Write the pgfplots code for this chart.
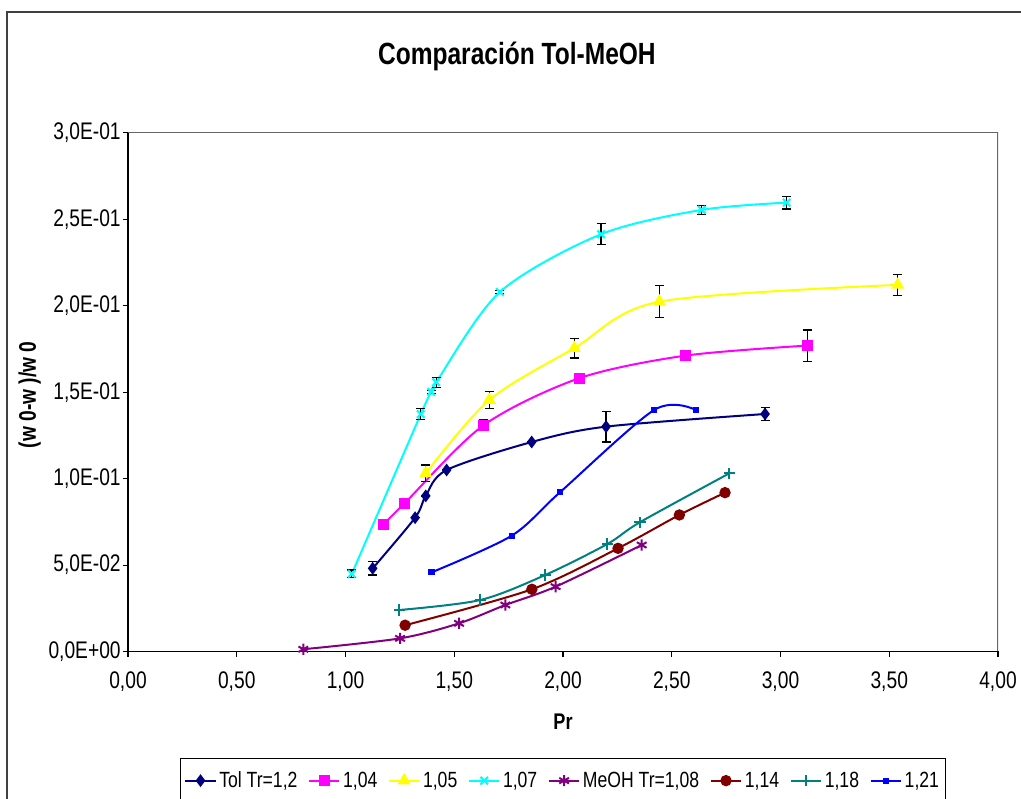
\documentclass[border=0pt]{standalone}
\usepackage{pgfplots}
\pgfplotsset{compat=1.18}
\usepackage{fontspec}
\setmainfont{Liberation Sans}[FakeStretch=0.8]
\definecolor{cNavy}{RGB}{0,0,128}
\definecolor{cMag}{RGB}{255,0,255}
\definecolor{cYel}{RGB}{255,255,0}
\definecolor{cCyan}{RGB}{0,255,255}
\definecolor{cPurp}{RGB}{128,0,128}
\definecolor{cDRed}{RGB}{128,0,0}
\definecolor{cTeal}{RGB}{0,128,128}
\definecolor{cBlue}{RGB}{0,0,255}
\begin{document}
\begin{tikzpicture}
\useasboundingbox (0pt,0pt) rectangle (765.75pt,599.25pt);
\draw[line width=1.5pt,black!75] (5.25pt,-15pt) -- (5.25pt,590.25pt) -- (780pt,590.25pt);
\begin{axis}[
  at={(96pt,110.625pt)}, anchor=south west,
  scale only axis, width=652.5pt, height=388.9pt,
  xmin=0, xmax=4, ymin=0, ymax=0.3,
  axis lines*=left,
  axis line style={line width=1.1pt, -},
  tick align=outside, major tick length=4pt,
  tick style={line width=0.8pt, black},
  xtick={0,0.5,1,1.5,2,2.5,3,3.5,4},
  xticklabels={{0,00},{0,50},{1,00},{1,50},{2,00},{2,50},{3,00},{3,50},{4,00}},
  ytick={0,0.05,0.1,0.15,0.2,0.25,0.3},
  yticklabels={{0,0E+00},{5,0E-02},{1,0E-01},{1,5E-01},{2,0E-01},{2,5E-01},{3,0E-01}},
  ticklabel style={font=\fontsize{18}{21}\selectfont},
  xticklabel style={yshift=-8pt},
  yticklabel style={xshift=2pt},
  title={\fontsize{23}{27}\selectfont\bfseries Comparación Tol-MeOH},
  title style={at={(axis description cs:0.447,1.132)}, anchor=center},
  xlabel={\fontsize{17}{20}\selectfont\bfseries Pr},
  xlabel style={at={(axis description cs:0.5,-0.136)}, anchor=center},
  ylabel={\fontsize{18}{21}\selectfont\bfseries (w 0-w )/w 0},
  ylabel style={at={(axis description cs:-0.113,0.495)}, anchor=center},
  legend columns=8,
  legend style={at={(0.5,-0.205)}, anchor=north, draw=black, line width=0.8pt,
    font=\fontsize{16.5}{19}\selectfont, inner xsep=3pt, inner ysep=8pt,
    /tikz/every even column/.append style={column sep=6pt}},
  legend image code/.code={\draw[mark repeat=2,mark phase=2,#1] plot coordinates {(0cm,0cm) (0.4cm,0cm) (0.8cm,0cm)};},
  every axis plot/.append style={line width=1.5pt, smooth, tension=0.5, mark options={solid}},
  error bars/y dir=both, error bars/y explicit,
  error bars/error bar style={black, line width=0.9pt},
  error bars/error mark options={rotate=90, mark size=3.4pt, black, line width=0.9pt},
]
\draw[black!60, line width=0.8pt] (rel axis cs:0,1) -- (rel axis cs:1,1) -- (rel axis cs:1,0);
% Tol Tr=1,2
\addplot[color=cNavy, mark=diamond*, mark size=3.6pt, mark options={fill=cNavy}]
  table[x=x, y=y, y error=e] {
x y e
1.125 0.0481 0.0039
1.320 0.0774 0
1.369 0.0900 0
1.465 0.1050 0
1.856 0.1212 0
2.198 0.1301 0.0089
2.929 0.1374 0.0036
};
\addlegendentry{Tol Tr=1,2}
% 1,04
\addplot[color=cMag, mark=square*, mark size=3.4pt, mark options={fill=cMag}]
  table[x=x, y=y, y error=e] {
x y e
1.174 0.0736 0
1.272 0.0858 0
1.635 0.1309 0.003
2.075 0.1581 0
2.564 0.1712 0
3.125 0.1770 0.009
};
\addlegendentry{1,04}
% 1,05
\addplot[color=cYel, mark=triangle*, mark size=4.2pt, mark options={fill=cYel}]
  table[x=x, y=y, y error=e] {
x y e
1.369 0.1031 0.0048
1.661 0.1455 0.0051
2.052 0.1755 0.0057
2.443 0.2024 0.0093
3.539 0.2121 0.006
};
\addlegendentry{1,05}
% 1,07
\addplot[color=cCyan, mark=x, mark size=4pt, mark options={line width=1.6pt}]
  table[x=x, y=y, y error=e] {
x y e
1.029 0.0449 0.0023
1.346 0.1373 0.0033
1.394 0.1502 0.0008
1.417 0.1558 0.0029
1.710 0.2080 0.001
2.175 0.2414 0.006
2.638 0.2555 0.0025
3.029 0.2597 0.0037
};
\addlegendentry{1,07}
% MeOH Tr=1,08
\addplot[color=cPurp, mark=asterisk, mark size=4.2pt, error bars/y dir=none]
  table[x=x, y=y] {
x y
0.806 0.0013
1.251 0.0076
1.522 0.0163
1.735 0.0269
1.966 0.0375
2.362 0.0616
};
\addlegendentry{MeOH Tr=1,08}
% 1,14
\addplot[color=cDRed, mark=*, mark size=3.5pt, mark options={fill=cDRed}, error bars/y dir=none]
  table[x=x, y=y] {
x y
1.274 0.0152
1.857 0.0360
2.253 0.0597
2.535 0.0790
2.745 0.0919
};
\addlegendentry{1,14}
% 1,18
\addplot[color=cTeal, mark=+, mark size=4.2pt, error bars/y dir=none]
  table[x=x, y=y] {
x y
1.247 0.0240
1.620 0.0298
1.919 0.0443
2.204 0.0622
2.354 0.0748
2.765 0.1031
};
\addlegendentry{1,18}
% 1,21
\addplot[color=cBlue, mark=square*, mark size=1.6pt, mark options={fill=cBlue}, error bars/y dir=none]
  table[x=x, y=y] {
x y
1.396 0.0458
1.764 0.0670
1.986 0.0921
2.420 0.1398
2.610 0.1398
};
\addlegendentry{1,21}
\end{axis}
\end{tikzpicture}
\end{document}
